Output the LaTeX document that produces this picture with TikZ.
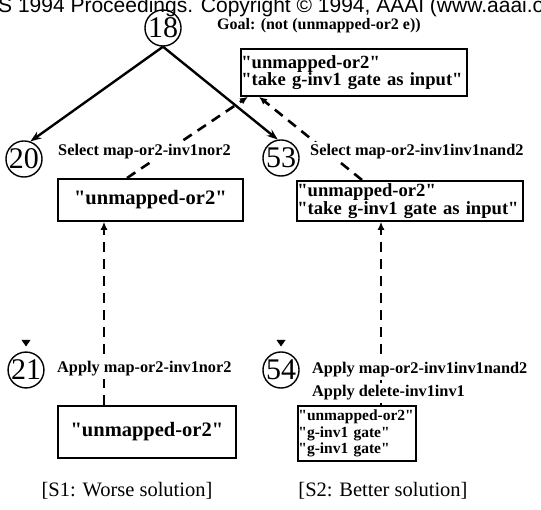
\documentclass[tikz,border=0pt]{standalone}
\usepackage{fontspec}
\setmainfont{Liberation Serif}[Ligatures=TeXOff]
\setsansfont{Liberation Sans}
\usetikzlibrary{arrows.meta}
\begin{document}
\begin{tikzpicture}[x=1pt,y=-1pt,
  circ/.style={draw,circle,line width=1.4pt,minimum size=34pt,inner sep=0pt,font=\fontsize{30}{30}\selectfont},
  lab/.style={fill=white,inner xsep=1pt,inner ysep=2.5pt,anchor=west,font=\bfseries\fontsize{16.3}{17}\selectfont},
  tbox/.style={draw,line width=1.8pt,anchor=north west,inner xsep=0.5pt,inner ysep=0pt,align=left,font=\bfseries\fontsize{18.6}{17.5}\selectfont},
  sarr/.style={line width=2.4pt,-{Stealth[length=11pt,width=8pt]}},
  darr/.style={line width=2.6pt,dash pattern=on 10pt off 7pt,-{Latex[length=8pt,width=7pt]}},
  foot/.style={font=\fontsize{20.5}{21}\selectfont}
]
\useasboundingbox (0,0) rectangle (541,510);
\fill[white] (0,0) rectangle (541,510);
% header
\node[anchor=base west,inner sep=0pt,font=\sffamily\fontsize{21}{21}\selectfont] (hd) at (-2,12.5) {S 1994 Proceedings. Copyright © 1994, AAAI (www.aaai.o};
% boxes
\node[tbox,text width=225pt,minimum height=47pt] (tb) at (240,48) {\mbox{"unmapped-or2"}\\\mbox{"take g-inv1 gate as input"}};
\node[tbox,align=center,text width=184pt,minimum height=42pt,font=\bfseries\fontsize{20.5}{20}\selectfont] (ml) at (57,178) {"unmapped-or2"};
\node[tbox,text width=225pt,minimum height=40pt] (mr) at (296,180) {\mbox{"unmapped-or2"}\\\mbox{"take g-inv1 gate as input"}};
\node[tbox,align=center,text width=177pt,minimum height=52pt,font=\bfseries\fontsize{20.5}{20}\selectfont] (bl) at (57,405) {"unmapped-or2"};
\node[tbox,text width=117pt,minimum height=55pt,font=\bfseries\fontsize{15.5}{16.5}\selectfont] (br) at (297,405) {\mbox{"unmapped-or2"}\\\mbox{"g-inv1 gate"}\\\mbox{"g-inv1 gate"}};
% circles
\node[circ] (n18) at (163,28) {18};
\node[circ] (n20) at (24,159) {20};
\node[circ] (n53) at (281,158) {53};
\node[circ] (n21) at (26,370) {21};
\node[circ] (n54) at (281,370) {54};
% helper x positions
\coordinate (ax) at (127,0);
\coordinate (bx) at (248,0);
\coordinate (cx) at (362,0);
\coordinate (dx) at (259,0);
\coordinate (ex) at (104,0);
\coordinate (fx) at (381,0);
% solid arrows
\draw[sarr] (n18.south) -- (n20.70);
\draw[sarr] (n18.south) -- (n53.100);
% dashed arrows
\draw[darr] (ml.north -| ax) -- (tb.south -| bx);
\draw[darr] (mr.north -| cx) -- (tb.south -| dx);
\draw[darr] (bl.north -| ex) -- (ml.south -| ex);
\draw[darr] (br.north -| fx) -- (mr.south -| fx);
% small marks above 21 and 54
\coordinate (m21) at (26,343);
\coordinate (m54) at (281,343);
\fill (m21) +(-4.5,-3) -- +(4.5,-3) -- +(0,3.5) -- cycle;
\fill (m54) +(-4.5,-3) -- +(4.5,-3) -- +(0,3.5) -- cycle;
% labels
\node[lab,inner ysep=0.5pt,font=\bfseries\fontsize{16}{17}\selectfont] (g) at (216,26) {Goal: (not (unmapped-or2 e))};
\node[lab] (s1) at (57,152) {Select map-or2-inv1nor2};
\node[lab] (s2) at (309,152) {Select map-or2-inv1inv1nand2};
\node[lab] (a1) at (56,369) {Apply map-or2-inv1nor2};
\node[lab] (a2) at (311,370) {Apply map-or2-inv1inv1nand2};
\node[lab] (a3) at (311,393) {Apply delete-inv1inv1};
% footers
\node[foot] (f1) at (127,491) {[S1: Worse solution]};
\node[foot] (f2) at (383,491) {[S2: Better solution]};
\end{tikzpicture}
\end{document}
